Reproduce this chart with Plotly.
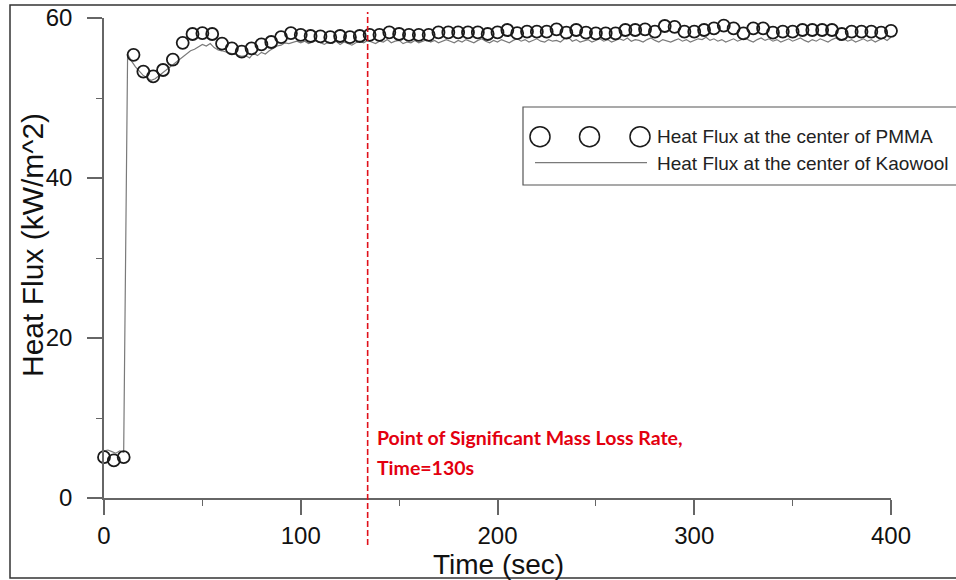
import plotly.graph_objects as go

# ---------------- data ----------------
pmma_time = list(range(0, 401, 5))
pmma_flux = [
    5.1, 4.7, 5.1, 55.4, 53.3, 52.7, 53.5, 54.8, 56.9, 58.0,
    58.1, 58.0, 56.8, 56.2, 55.8, 56.2, 56.7, 57.0, 57.6, 58.1,
    57.9, 57.75, 57.7, 57.6, 57.75, 57.6, 57.75, 57.9, 57.9, 58.2,
    58.0, 57.9, 57.9, 57.9, 58.2, 58.2, 58.2, 58.2, 58.2, 58.0,
    58.2, 58.5, 58.1, 58.3, 58.29, 58.29, 58.58, 58.17, 58.5, 58.17,
    58.08, 58.08, 58.08, 58.5, 58.5, 58.58, 58.29, 59.0, 58.9, 58.29,
    58.29, 58.5, 58.7, 59.04, 58.7, 58.08, 58.7, 58.7, 58.17, 58.29,
    58.29, 58.5, 58.5, 58.5, 58.5, 58.0, 58.29, 58.29, 58.29, 58.17,
    58.4,
]

kao_time = list(range(0, 401, 2))
kao_flux = [
    5.9, 6.0, 5.8, 5.6, 5.9, 5.7, 55.5, 54.6, 53.9, 53.3,
    52.8, 52.5, 52.2, 52.4, 52.8, 53.2, 53.6, 54.0, 54.4, 54.8,
    55.2, 55.5, 55.9, 56.1, 56.4, 56.7, 56.5, 56.8, 56.3, 56.0,
    55.9, 55.7, 55.6, 55.5, 55.3, 55.2, 55.3, 55.0, 55.6, 55.3,
    55.7, 55.5, 55.9, 56.2, 56.5, 56.6, 56.9, 56.8, 57.0, 57.1,
    56.9, 57.1, 56.8, 57.0, 57.2, 56.9, 56.7, 57.0, 56.8, 57.1,
    56.7, 57.0, 56.8, 56.6, 56.9, 57.1, 56.9, 57.2, 57.0, 56.8,
    57.1, 57.0, 57.3, 56.9, 57.1, 57.2, 56.8, 57.0, 56.9, 57.2,
    56.9, 57.1, 57.3, 57.0, 57.2, 56.9, 57.1, 57.3, 57.1, 56.9,
    57.2, 57.0, 57.3, 57.1, 56.9, 57.2, 57.4, 57.1, 56.9, 57.2,
    57.0, 57.3, 57.1, 56.9, 57.2, 57.4, 57.1, 57.3, 57.0, 57.2,
    57.4, 57.1, 57.0, 57.3, 57.1, 57.2, 57.0, 57.4, 57.6, 57.1,
    57.3, 57.0, 57.2, 57.3, 57.0, 57.2, 57.4, 57.1, 57.3, 57.0,
    57.2, 57.4, 57.2, 57.5, 57.1, 57.3, 57.2, 57.0, 57.3, 57.5,
    57.2, 57.0, 57.3, 57.1, 57.0, 57.2, 57.4, 57.1, 57.3, 57.0,
    57.2, 57.4, 57.3, 57.6, 57.2, 57.4, 57.1, 57.3, 57.0, 57.2,
    57.4, 57.1, 57.3, 57.5, 57.2, 57.0, 57.3, 57.5, 57.2, 57.4,
    57.1, 57.3, 57.0, 57.2, 57.4, 57.1, 57.3, 57.5, 57.2, 57.0,
    57.3, 57.1, 57.4, 57.2, 57.0, 57.3, 57.5, 57.2, 57.4, 57.1,
    57.3, 57.0, 57.2, 57.4, 57.1, 57.3, 57.0, 57.2, 57.5, 57.2,
    57.6,
]

mass_loss_time = 134
series_names = ["Heat Flux at the center of PMMA", "Heat Flux at the center of Kaowool"]
annotation_lines = ["Point of Significant Mass Loss Rate,", "Time=130s"]
x_ticks = [0, 100, 200, 300, 400]
y_ticks = [0, 20, 40, 60]

# ---------------- figure ----------------
fig = go.Figure()
fig.add_trace(go.Scatter(
    x=kao_time, y=kao_flux, mode="lines", name=series_names[1],
    line=dict(color="#7a7a7a", width=1.2), showlegend=False,
))
fig.add_trace(go.Scatter(
    x=pmma_time, y=pmma_flux, mode="markers", name=series_names[0],
    marker=dict(symbol="circle-open", size=12, color="#1a1a1a",
                line=dict(width=1.8, color="#1a1a1a")),
    cliponaxis=False, showlegend=False,
))

L, R, T, B = 104, 65, 18, 82
W, H = 956, 580
pw, ph = W - L - R, H - T - B


def px(xp):
    return (xp - L) / pw


def py(yp):
    return (H - B - yp) / ph


shapes = []
# outer image frame
shapes.append(dict(type="rect", xref="paper", yref="paper",
                   x0=px(10), x1=px(1000), y0=py(578), y1=py(5),
                   line=dict(color="#333333", width=1.5), layer="below"))
# red dashed vertical line
shapes.append(dict(type="line", xref="x", yref="paper",
                   x0=mass_loss_time, x1=mass_loss_time, y0=py(545), y1=py(12),
                   line=dict(color="#e0101a", width=1.6, dash="6px,3px")))
# legend box
shapes.append(dict(type="rect", xref="paper", yref="paper",
                   x0=px(523), x1=px(1000), y0=py(185), y1=py(107),
                   line=dict(color="#555555", width=1.2), fillcolor="white"))
# legend circles
for cx in (540, 589.5, 640):
    shapes.append(dict(type="circle", xref="paper", yref="paper",
                       xsizemode="pixel", ysizemode="pixel",
                       xanchor=px(cx), yanchor=py(136.7),
                       x0=-10, x1=10, y0=-10, y1=10,
                       line=dict(color="#1a1a1a", width=1.5)))
# legend line
shapes.append(dict(type="line", xref="paper", yref="paper",
                   x0=px(535), x1=px(647), y0=py(162.7), y1=py(162.7),
                   line=dict(color="#7a7a7a", width=1.2)))

legend_font = dict(family="Arial, Liberation Sans", size=19, color="#222222")
red_font = dict(family="Lato", size=19.5, color="#e3000f", weight="bold")
annotations = [
    dict(text=series_names[0], xref="paper", yref="paper", x=px(655), y=py(136.7),
         xanchor="left", yanchor="middle", showarrow=False, font=legend_font),
    dict(text=series_names[1], xref="paper", yref="paper", x=px(655), y=py(163),
         xanchor="left", yanchor="middle", showarrow=False, font=legend_font),
    dict(text=annotation_lines[0], xref="paper", yref="paper",
         x=px(375), y=py(437), xanchor="left", yanchor="middle", showarrow=False, font=red_font),
    dict(text=annotation_lines[1], xref="paper", yref="paper",
         x=px(375), y=py(467), xanchor="left", yanchor="middle", showarrow=False, font=red_font),
    dict(text="Heat Flux (kW/m^2)", xref="paper", yref="paper", x=px(32), y=py(245),
         xanchor="center", yanchor="middle", textangle=-90, showarrow=False,
         font=dict(family="Arial, Liberation Sans", size=30, color="#111111")),
    dict(text="Time (sec)", xref="paper", yref="paper", x=px(499), y=py(564),
         xanchor="center", yanchor="middle", showarrow=False,
         font=dict(family="Arial, Liberation Sans", size=28, color="#111111")),
]

fig.update_layout(
    width=W, height=H,
    margin=dict(l=L, r=R, t=T, b=B, pad=0),
    paper_bgcolor="white", plot_bgcolor="white",
    font=dict(family="Arial, Liberation Sans", color="#222222"),
    shapes=shapes, annotations=annotations,
    xaxis=dict(range=[0, 400], tickvals=x_ticks, showgrid=False, zeroline=False,
               automargin=False,
               showline=True, linecolor="#666666", linewidth=1.5,
               ticks="outside", ticklen=15, tickwidth=1.5, tickcolor="#666666",
               tickfont=dict(size=24, color="#111111"),
               minor=dict(dtick=50, ticks="outside", ticklen=6, tickwidth=1.2, tickcolor="#666666")),
    yaxis=dict(range=[0, 60], tickvals=y_ticks, showgrid=False, zeroline=False,
               automargin=False,
               showline=True, linecolor="#666666", linewidth=1.5,
               ticks="outside", ticklen=15, tickwidth=1.5, tickcolor="#666666",
               tickfont=dict(size=24, color="#111111"), ticklabelstandoff=10,
               minor=dict(dtick=10, ticks="outside", ticklen=6, tickwidth=1.2, tickcolor="#666666")),
)

fig.write_html("out.html", config={"displayModeBar": False},
               post_script="document.body.style.margin='0px';document.body.style.overflow='hidden';")
